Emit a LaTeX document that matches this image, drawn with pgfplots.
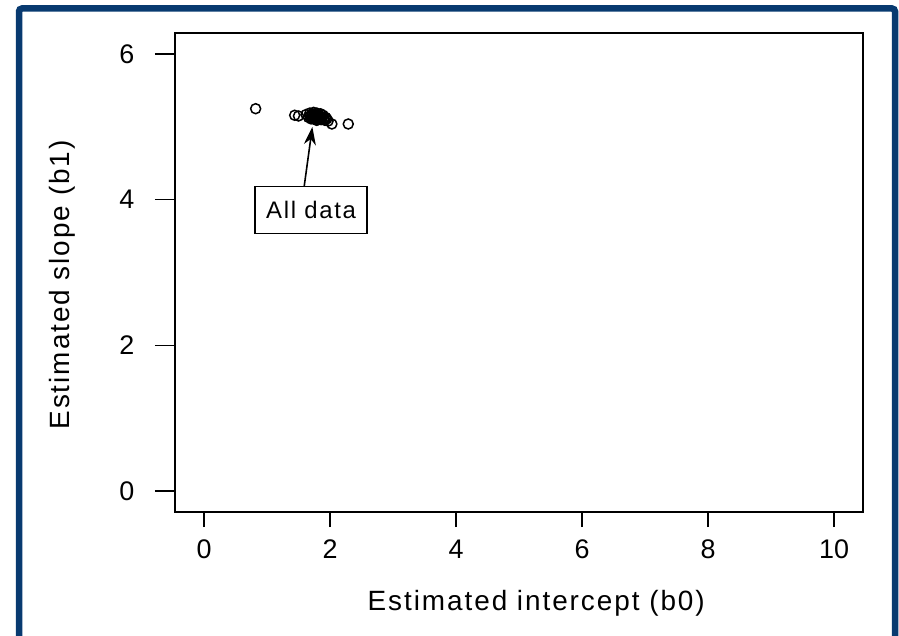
\documentclass[border=0pt]{standalone}
\usepackage{fontspec}
\setmainfont{Liberation Sans}
\newfontfamily\widefont[LetterSpace=7]{Liberation Sans}
\usepackage{pgfplots}
\pgfplotsset{compat=1.18}
\usetikzlibrary{arrows.meta}
\definecolor{frameblue}{RGB}{8,58,112}
\begin{document}
\begin{tikzpicture}
\path[use as bounding box] (0bp,0bp) rectangle (899bp,636bp);
\draw[frameblue, line width=6.5bp, rounded corners=3bp] (19bp,-10bp) -- (19bp,627.5bp) -- (895bp,627.5bp) -- (895bp,-10bp);
\begin{axis}[
  at={(175bp,124bp)}, anchor=south west,
  scale only axis, width=688bp, height=479bp,
  xmin=-0.46, xmax=10.46, ymin=-0.29, ymax=6.29,
  axis line style={line width=1.4bp},
  tick align=outside, tick pos=left,
  xtick={0,2,4,6,8,10}, ytick={0,2,4,6},
  xtick style={/pgfplots/major tick length=15bp, line width=1.4bp, black},
  ytick style={/pgfplots/major tick length=20bp, line width=1.4bp, black},
  /pgf/number format/assume math mode=true,
  ticklabel style={font=\fontsize{27}{30}\selectfont},
  xticklabel style={yshift=-20bp},
  yticklabel style={xshift=-33bp},
  xlabel={Estimated intercept (b0)},
  ylabel={Estimated slope (b1)},
  label style={font=\widefont\fontsize{28}{32}\selectfont},
  xlabel style={at={(axis description cs:0.525,-0.19)}, anchor=center},
  ylabel style={at={(axis description cs:-0.164,0.474)}, anchor=center, rotate=0},
  clip=false,
]
\addplot[only marks, mark=o, mark size=5bp, line width=1.5bp, black] coordinates {
(0.82,5.25)
(1.44,5.16)
(1.50,5.15)
(1.62,5.17)
(1.66,5.13)
(1.68,5.15)
(1.68,5.19)
(1.70,5.11)
(1.71,5.16)
(1.72,5.18)
(1.73,5.14)
(1.74,5.20)
(1.75,5.13)
(1.76,5.17)
(1.77,5.14)
(1.77,5.10)
(1.78,5.16)
(1.79,5.09)
(1.79,5.19)
(1.80,5.12)
(1.81,5.14)
(1.82,5.17)
(1.83,5.15)
(1.84,5.11)
(1.85,5.18)
(1.86,5.10)
(1.86,5.14)
(1.88,5.13)
(1.89,5.16)
(1.90,5.11)
(1.92,5.09)
(1.93,5.13)
(1.95,5.11)
(1.97,5.08)
(2.03,5.04)
(2.29,5.04)
(1.72,5.12)
(1.75,5.16)
(1.81,5.10)
(1.84,5.15)
};
\draw[-{Stealth[length=18bp,width=12bp]}, line width=1.6bp] (axis cs:1.59,4.18) -- (axis cs:1.72,5.00);
\node[draw, line width=1.4bp, fill=white, minimum width=112bp, minimum height=47bp, inner sep=0pt, font=\widefont\fontsize{24}{28}\selectfont] at (axis cs:1.70,3.86) {All data};
\end{axis}
\end{tikzpicture}
\end{document}
